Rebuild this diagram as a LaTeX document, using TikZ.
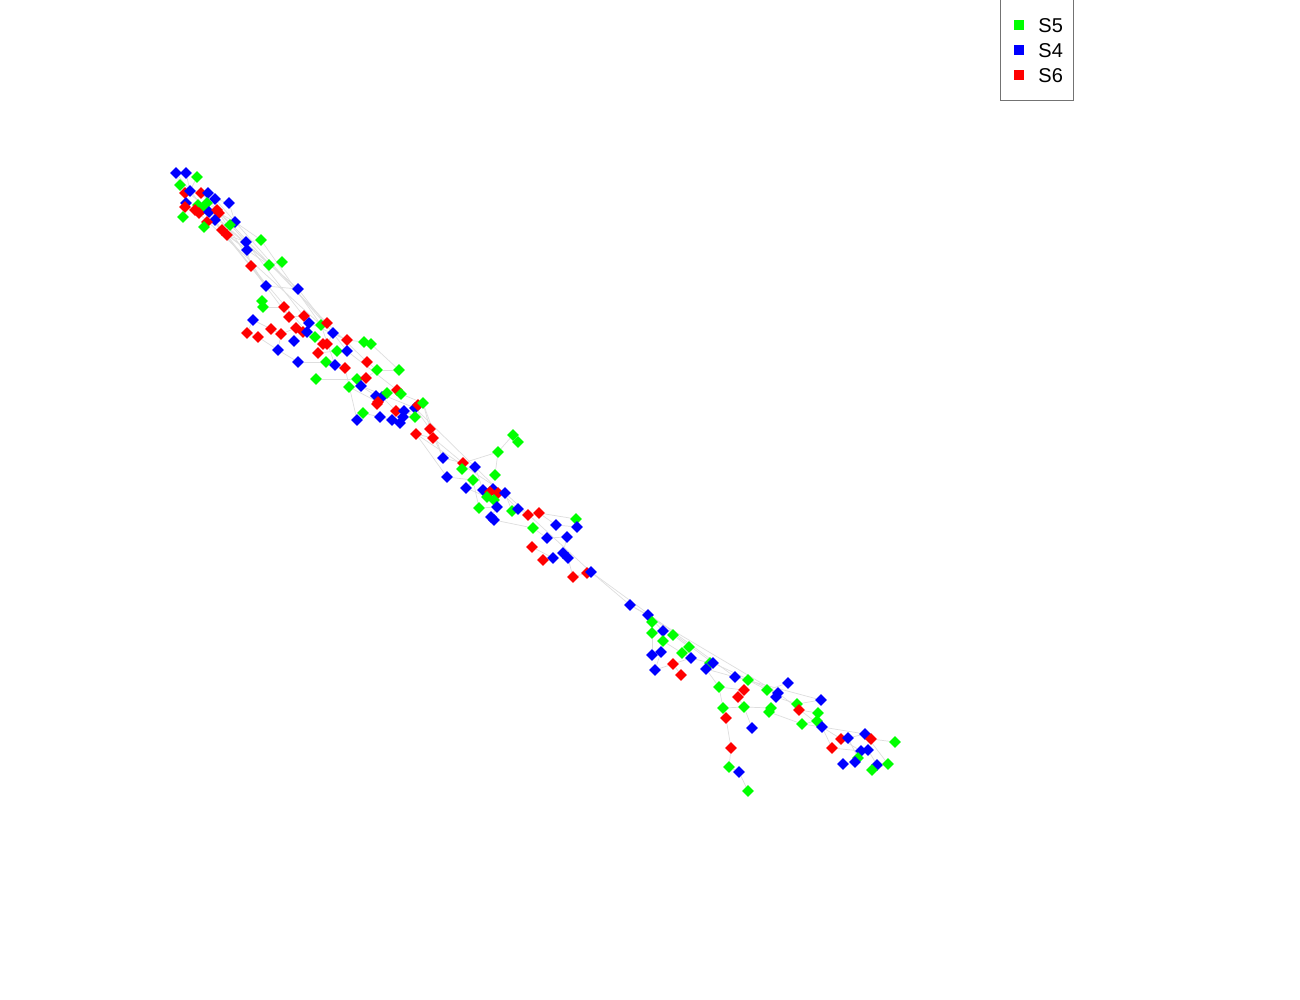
\documentclass[tikz,border=0pt]{standalone}
\usepackage{fontspec}
\setmainfont{Liberation Sans}
\usetikzlibrary{shapes.geometric,backgrounds}
\definecolor{pg}{RGB}{0,255,0}
\definecolor{pb}{RGB}{0,0,255}
\definecolor{pr}{RGB}{255,0,0}
\tikzset{
  mk/.style={diamond,fill=#1,draw=none,inner sep=0pt,minimum size=6pt},
  edge/.style={draw=black!13,line width=0.35pt},
  legsq/.style={rectangle,fill=#1,inner sep=0pt,minimum size=4.6pt},
  legtxt/.style={anchor=west,inner sep=0pt,font=\fontsize{10}{12}\selectfont}
}
\begin{document}
\begin{tikzpicture}[x=0.5pt,y=-0.5pt]
\useasboundingbox (0,0) rectangle (1300,1000);
\foreach \n/\x/\y/\c in {
b1/176/173/pb, b2/186/173/pb, g1/197/177/pg, g2/180/185/pg, r1/185/193/pr, b3/190/191/pb,
r2/201/193/pr, b4/208/193/pb, b5/186/203/pb, r3/185/207/pr, b6/215/199/pb, b7/229/203/pb,
g3/198/205/pg, g4/207/203/pg, g5/203/209/pg, r4/195/210/pr, r5/199/213/pr, b8/209/212/pb,
r6/217/210/pr, r7/219/213/pr, b9/215/220/pb, g6/183/217/pg, r8/207/222/pr, g7/204/227/pg,
b10/235/222/pb, g8/230/225/pg, r9/222/230/pr, r10/227/235/pr, b11/246/242/pb, g9/261/240/pg,
b12/247/250/pb, r11/251/266/pr, g10/269/265/pg, g11/282/262/pg, b13/266/286/pb,
b14/298/289/pb, g12/262/301/pg, g13/263/307/pg, r12/284/307/pr, r13/289/317/pr, r14/304/316/pr,
b15/253/320/pb, b16/309/323/pb, g14/321/325/pg, r15/327/323/pr, r16/247/333/pr, r17/271/329/pr,
r18/281/334/pr, r19/296/328/pr, r20/303/332/pr, b17/307/332/pb, r21/258/337/pr, b18/294/341/pb,
b19/333/333/pb, g15/315/337/pg, r22/347/340/pr, g16/364/342/pg, g17/371/344/pg, r23/323/344/pr,
r24/327/344/pr, r25/318/353/pr, g18/337/351/pg, b20/347/351/pb, b21/278/350/pb, r26/367/362/pr,
b22/298/362/pb, g19/326/362/pg, b23/335/365/pb, r27/345/368/pr, g20/377/370/pg, g21/316/379/pg,
g22/357/379/pg, r28/366/378/pr, g23/349/387/pg, b24/361/386/pb, b25/376/396/pb,
g24/399/370/pg, b26/382/397/pb, g25/387/393/pg, r29/397/390/pr, g26/401/394/pg, r30/378/402/pr,
r31/377/404/pr, g27/363/413/pg, b27/380/417/pb, b28/357/420/pb, r32/396/411/pr, b29/404/411/pb,
b30/392/420/pb, b31/400/423/pb, b32/403/417/pb, b33/415/408/pb, g28/415/417/pg, r33/418/405/pr,
g29/423/403/pg, r34/430/429/pr, r35/433/438/pr, r36/416/434/pr,
g30/513/435/pg, g31/518/442/pg, g32/498/452/pg, b34/443/458/pb, r37/463/463/pr, g33/462/469/pg,
b35/475/467/pb, b36/447/477/pb, g34/473/480/pg, g35/495/475/pg, b37/466/488/pb, b38/483/490/pb,
b39/493/489/pb, r38/490/492/pr, r39/498/493/pr, b40/505/493/pb, g36/487/497/pg, g37/494/500/pg,
g38/479/508/pg, b41/497/507/pb, b42/491/517/pb, b43/494/520/pb, g39/512/511/pg, b44/518/509/pb,
r40/528/515/pr, r41/539/513/pr, g40/576/519/pg, b45/556/525/pb, b46/577/527/pb, g41/533/528/pg,
b47/547/538/pb, b48/567/537/pb, r42/532/547/pr, b49/553/558/pb, r43/543/560/pr, b50/563/553/pb,
b51/568/558/pb, r44/573/577/pr, r45/587/573/pr, b52/591/572/pb,
b53/630/605/pb, b54/648/615/pb, g42/652/622/pg, g43/652/633/pg, b55/663/631/pb, g44/673/635/pg,
g45/663/641/pg, g46/689/647/pg, g47/682/653/pg, b56/652/655/pb, b57/661/652/pb, b58/691/658/pb,
r46/673/664/pr, b59/655/670/pb, r47/681/675/pr, g48/710/663/pg, b60/713/663/pb, b61/706/669/pb,
b62/735/677/pb, g49/748/680/pg, g50/719/687/pg, r48/744/690/pr, r49/738/697/pr, g51/767/690/pg,
b63/788/683/pb, b64/778/693/pb, b65/776/697/pb, g52/723/708/pg, g53/744/707/pg, g54/771/708/pg,
g55/769/712/pg, r50/726/718/pr, b66/752/728/pb, g56/797/704/pg, r51/799/710/pr, b67/821/700/pb,
g57/818/713/pg, g58/817/721/pg, g59/802/724/pg, b68/822/727/pb, r52/841/739/pr, b69/848/738/pb,
b70/865/734/pb, r53/871/739/pr, g60/895/742/pg, r54/832/748/pr, b71/861/751/pb, b72/868/750/pb,
g61/858/758/pg, b73/855/762/pb, b74/843/764/pb, b75/877/765/pb, g62/872/770/pg, g63/888/764/pg,
r55/731/748/pr, g64/729/767/pg, b76/739/772/pb, g65/748/791/pg}
  \node[mk=\c] (\n) at (\x,\y) {};
\begin{scope}[on background layer]
\fill[white] (0,0) rectangle (1300,1000);
\foreach \a/\b in {
b1/g2, b2/b3, g1/b3, b3/r2, r1/b5, b4/b6, b6/b7, g3/g4, g4/r6, r4/g3, r5/b8, b8/r7, r7/b10,
b9/r9, g6/r3, r8/g7, r9/r10, r10/b11, b11/g9, b11/b12, b12/r11, b12/g10, g10/g11, r11/b13,
b13/b14, b7/b10, g8/b10, r6/b11, b10/g9, r10/b12, r9/b12, r7/b13, b8/b14, r10/r13, b11/b16,
g9/g14, b1/b13, g2/b14, r4/g14, g5/b17, r2/r15, b6/b19,
g12/g13, g13/r12, r12/r13, r13/r14, r14/b16, b15/r16, r16/r21, r17/r18, r18/r19, r19/r20,
r20/b17, b17/g15, g15/r23, r23/r24, r24/b19, b19/r22, r22/g16, g16/g17, r25/g18, g18/b20,
b21/r18, b22/g19, g19/b23, b23/r27, r26/g20, g21/g22, g22/r28, g23/b24, b24/b25, b15/r17,
r21/b21, b21/b22, g20/g24, r28/g20, b14/b20, b20/r29, b16/r22, g14/b23, r15/r26, g17/g24,
b25/b26, b26/g25, g25/r29, r29/g26, r30/r31, g27/b27, b28/g27, r32/b29, b30/b31, b32/b33,
g28/r33, r33/g29, g29/r34, r34/r35, r35/r36, b27/b30, b29/g28, g26/g29, b26/r32, b33/r34,
g29/b34, r34/b34, r35/r37, r36/b36, b24/b33, b33/b35, r27/b28, g23/r30,
b34/r37, r37/g33, g33/b35, b36/g34, g34/b37, b35/b38, g35/g32, g32/g30, g30/g31, g32/r37,
b38/b39, b39/r38, r38/r39, r39/b40, g36/g37, g38/b41, b41/b42, b42/b43, g39/b44, b44/r40,
r40/r41, r41/g40, g40/b46, b45/b46, g41/b47, b47/b48, r42/b49, b49/r43, b50/b51, b51/r44,
r44/r45, r45/b52, b52/b53, b40/g39, b43/g41, r41/b45, b48/b50, r36/b40, b40/b52, b35/b44,
g34/g38, b37/g36,
b53/b54, b54/g42, g42/g43, g43/b56, b55/g44, g45/g47, g46/g47, b57/b56, b58/r46, b59/b57,
r46/r47, g47/b58, b58/g48, g48/b60, b60/b61, b54/b55, b55/g45, g44/g46, b59/r46, b52/b62,
b53/b64, b54/b60,
b61/b62, b62/g49, g50/r48, r48/r49, g49/g51, g51/b63, b64/b65, g52/g53, g53/g54, g54/g55,
r50/g52, r50/r55, r55/g64, g64/b76, b76/g65, g53/b66, g56/b67, g56/r51, r51/g57, g57/g58,
g58/g59, g59/b68, b68/r52, r52/b69, b69/b70, b70/r53, r53/g60, r54/b71, b71/b72, g61/b73,
b73/b74, b75/g62, g62/g63, b61/g50, g50/g52, b65/g56, g55/g59, b68/r54, r52/b71, b72/b75,
b62/b67, b64/b68, b60/b64, r49/g53, g51/b64, b68/b70, b69/g61, b70/g63}
  \draw[edge] (\a) -- (\b);
\end{scope}
% legend
\node[draw=black!55,line width=0.5pt,rectangle,inner sep=0pt,minimum width=36.5pt,minimum height=51pt,anchor=north west] (leg) at (1000,-2) {};
\node[legsq=pg] (lg) at (1019,25) {};
\node[legsq=pb] (lb) at (1019,50) {};
\node[legsq=pr] (lr) at (1019,75) {};
\node[legtxt] (tg) at (1038,26) {S5};
\node[legtxt] (tb) at (1038,51) {S4};
\node[legtxt] (tr) at (1038,76) {S6};
\end{tikzpicture}
\end{document}
